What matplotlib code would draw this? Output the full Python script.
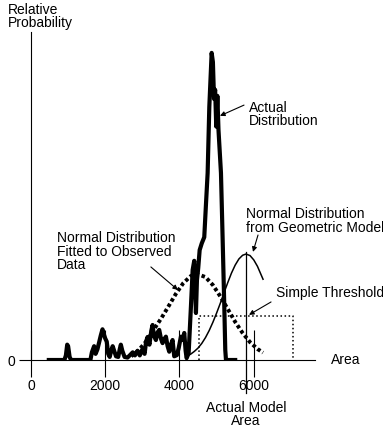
import matplotlib.pyplot as plt
from matplotlib.transforms import blended_transform_factory

plt.rcParams['font.family'] = ['Liberation Sans', 'DejaVu Sans']
plt.rcParams['font.size'] = 10

# observed (actual) distribution
actual_x = [480, 900, 940, 975, 1000, 1040, 1080, 1600, 1640, 1700, 1740, 1790,
            1840, 1880, 1926, 1960, 2000, 2040, 2080, 2120, 2160, 2200, 2240,
            2290, 2350, 2390, 2420, 2460, 2520, 2600, 2660, 2740, 2800, 2870,
            2930, 3000, 3060, 3100, 3140, 3190, 3240, 3275, 3310, 3364, 3410,
            3454, 3500, 3544, 3600, 3634, 3680, 3724, 3770, 3813, 3858, 3930,
            3980, 4038, 4084, 4128, 4165, 4192, 4246, 4308, 4354, 4397, 4443,
            4470, 4505, 4543, 4600, 4667, 4710, 4758, 4803, 4866, 4900, 4930,
            4960, 4990, 5020, 5050, 5117, 5163, 5207, 5233, 5252, 5500]
actual_y = [0, 0, 0.015, 0.05, 0.045, 0.01, 0, 0, 0.025, 0.045, 0.02, 0.035,
            0.06, 0.08, 0.10, 0.085, 0.07, 0.06, 0.02, 0.01, 0.03, 0.045, 0.03,
            0.012, 0.01, 0.035, 0.05, 0.03, 0.01, 0.008, 0.015, 0.025, 0.015, 0.03,
            0.015, 0.035, 0.02, 0.06, 0.075, 0.05, 0.095, 0.114, 0.08, 0.065, 0.09,
            0.098, 0.07, 0.055, 0.07, 0.076, 0.045, 0.027, 0.05, 0.065, 0.012, 0.016,
            0.04, 0.076, 0.065, 0.088, 0.03, 0.006, 0.022, 0.174, 0.293, 0.323, 0.153,
            0.26, 0.30, 0.358, 0.38, 0.40, 0.50, 0.609, 0.824, 1.0, 0.97, 0.85,
            0.88, 0.76, 0.86, 0.75, 0.609, 0.39, 0.173, 0.033, 0, 0]

# normal distribution fitted to observed data
fit_x = [2700, 2900, 3100, 3300, 3500, 3700, 3900, 4100, 4300, 4480, 4700,
         4900, 5100, 5300, 5500, 5700, 5900, 6100, 6250]
fit_y = [0.012, 0.032, 0.060, 0.098, 0.134, 0.174, 0.215, 0.250, 0.273, 0.280,
         0.270, 0.244, 0.207, 0.166, 0.124, 0.088, 0.058, 0.036, 0.024]

# normal distribution from geometric model
geo_x = [4170, 4300, 4400, 4500, 4600, 4700, 4800, 4900, 5000, 5100, 5200,
         5300, 5400, 5500, 5600, 5700, 5792, 5900, 6000, 6100, 6250]
geo_y = [0.011, 0.019, 0.028, 0.039, 0.054, 0.073, 0.096, 0.123, 0.153, 0.185,
         0.219, 0.252, 0.283, 0.309, 0.329, 0.341, 0.345, 0.340, 0.326, 0.305, 0.263]

threshold_x = [4524, 7060]
threshold_y = 0.143
model_area = 5792

xticks = [0, 2000, 4000, 6000]
xticklabels = ['0', '2000', '4000', '6000']

fig = plt.figure(figsize=(3.83, 4.30), dpi=100)
ax = fig.add_axes([31 / 383, 70 / 430, 284 / 383, 328 / 430])
ax.set_xlim(0, 7650)
ax.set_ylim(0, 1.068)

for s in ['top', 'right']:
    ax.spines[s].set_visible(False)
for s in ['left', 'bottom']:
    ax.spines[s].set_linewidth(0.8)

ax.xaxis.remove_overlapping_locs = False
ax.set_xticks(xticks)
ax.set_xticklabels(xticklabels)
ax.set_xticks(xticks, minor=True)
ax.tick_params(axis='x', which='major', direction='out', length=12, width=0.8, pad=1.5, labelsize=10)
ax.tick_params(axis='x', which='minor', direction='in', length=21.5, width=0.8)
ax.set_yticks([0])
ax.set_yticklabels(['0'])
ax.tick_params(axis='y', direction='out', length=8.6, width=0.8, pad=3, labelsize=10)

# threshold box
ax.plot([threshold_x[0], threshold_x[0], threshold_x[1], threshold_x[1]],
        [0, threshold_y, threshold_y, 0], color='black', lw=1.1, ls=':')
ax.plot(geo_x, geo_y, color='black', lw=1.1)
ax.plot(fit_x, fit_y, color='black', lw=2.8, dashes=(0.9, 0.7), dash_capstyle='butt')
ax.plot(actual_x, actual_y, color='black', lw=3.0, solid_joinstyle='round')

ax.axvline(model_area, ymin=-0.1006, ymax=0.329, color='black', lw=0.9, clip_on=False)
trans = blended_transform_factory(ax.transData, ax.transAxes)
ax.text(model_area, -0.125, 'Actual Model\nArea', transform=trans, ha='center', va='top',
        linespacing=0.95)

ax.text(1.056, 0, 'Area', transform=ax.transAxes, va='center', ha='left')
fig.text(8 / 383, 1 - 3 / 430, 'Relative\nProbability', ha='left', va='top', linespacing=0.95)

arrow = dict(arrowstyle='-|>', color='black', lw=0.8, mutation_scale=7, shrinkA=0, shrinkB=0)
ax.annotate('', xy=(5090, 0.795), xytext=(5738, 0.83), arrowprops=arrow)
ax.text(5871, 0.80, 'Actual\nDistribution', va='center', ha='left', linespacing=0.95)

ax.annotate('', xy=(5980, 0.352), xytext=(6115, 0.407), arrowprops=arrow)
ax.text(5792, 0.453, 'Normal Distribution\nfrom Geometric Model', va='center', ha='left',
        linespacing=0.95)

ax.annotate('', xy=(3957, 0.228), xytext=(3229, 0.303), arrowprops=arrow)
ax.text(694, 0.353, 'Normal Distribution\nFitted to Observed\nData', va='center', ha='left',
        linespacing=0.95)

ax.annotate('', xy=(5872, 0.147), xytext=(6466, 0.189), arrowprops=arrow)
ax.text(6600, 0.218, 'Simple Threshold', va='center', ha='left')

fig.savefig('out.png', dpi=100)
